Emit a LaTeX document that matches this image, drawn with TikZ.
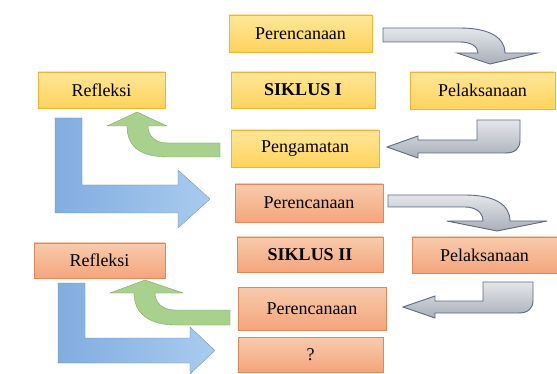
\documentclass[tikz,border=0pt]{standalone}
\usepackage{fontspec}
\setmainfont{Liberation Serif}
\definecolor{ytop}{HTML}{FFE699}
\definecolor{ybot}{HTML}{FFD45C}
\definecolor{yedge}{HTML}{F2B233}
\definecolor{stop}{HTML}{F8CBAD}
\definecolor{sbot}{HTML}{F4A57C}
\definecolor{sedge}{HTML}{E0875A}
\definecolor{bluea}{HTML}{82ADE0}
\definecolor{blueb}{HTML}{A9CBEE}
\definecolor{greena}{HTML}{A9D18E}
\definecolor{greenb}{HTML}{8CC26D}
\definecolor{graya}{HTML}{E4E6EA}
\definecolor{grayb}{HTML}{A9AEB8}
\definecolor{grayedge}{HTML}{5D6B85}
\tikzset{
  ybox/.style={draw=yedge, line width=0.8pt, top color=ytop, bottom color=ybot, inner sep=0pt, font=\fontsize{18}{20}\selectfont},
  sbox/.style={draw=sedge, line width=0.8pt, top color=stop, bottom color=sbot, inner sep=0pt, font=\fontsize{18}{20}\selectfont},
  bluearrow/.style={left color=bluea, right color=blueb, draw=bluea!80!black, line width=0.3pt},
  greenarrow/.style={fill=greena, draw=greenb!80!black, line width=0.3pt},
  grayarrow/.style={top color=graya, bottom color=grayb, draw=grayedge, line width=0.9pt},
}
\begin{document}
\begin{tikzpicture}[x=1pt,y=-1pt]
\useasboundingbox (0,0) rectangle (557,374);
\fill[white] (0,0) rectangle (557,374);

% Cycle I
\node[ybox, minimum width=143pt, minimum height=37pt] (p1) at (300.5,33.5) {Perencanaan};
\node[ybox, minimum width=144pt, minimum height=36pt] (s1) at (303,90) {\textbf{SIKLUS I}};
\node[ybox, minimum width=148pt, minimum height=37pt] (g1) at (305,148.5) {Pengamatan};
\node[ybox, minimum width=145pt, minimum height=37pt] (l1) at (482.5,90.5) {Pelaksanaan};
\node[ybox, minimum width=127pt, minimum height=36pt] (r1) at (101.5,90) {Refleksi};

% Cycle II
\node[sbox, minimum width=148pt, minimum height=38pt] (p2) at (309,203) {Perencanaan};
\node[sbox, minimum width=146pt, minimum height=35pt] (s2) at (310,254.5) {\textbf{SIKLUS II}};
\node[sbox, minimum width=148pt, minimum height=43pt] (g2) at (312,308.5) {Perencanaan};
\node[sbox, minimum width=145pt, minimum height=35pt] (q) at (310.5,354.5) {?};
\node[sbox, minimum width=145pt, minimum height=36pt] (l2) at (484.5,255) {Pelaksanaan};
\node[sbox, minimum width=131pt, minimum height=35pt] (r2) at (99.5,260.5) {Refleksi};

% Blue L arrows
\path[bluearrow] (55,118) -- (82,118) -- (82,185) -- (178,185) -- (178,170) -- (210,199) -- (178,228) -- (178,213) -- (55,213) -- cycle;
\path[bluearrow] (58,283) -- (85,283) -- (85,338) -- (190,338) -- (190,327) -- (215,350.5) -- (190,374) -- (190,363) -- (58,363) -- cycle;

% Green curved arrows
\path[greenarrow] (220,143) -- (168,143) .. controls (155,143) and (148,136) .. (148,126) -- (167,126) -- (137,112) -- (107,126) -- (127,126) .. controls (127,148) and (142,157) .. (168,157) -- (220,157) -- cycle;
\path[greenarrow] (230,310) -- (175,310) .. controls (162,310) and (155,302) .. (155,293) -- (183,293) -- (145,280) -- (110,293) -- (134,293) .. controls (134,314) and (150,325) .. (175,325) -- (230,325) -- cycle;

% Gray bent arrows
\path[grayarrow] (383,28) -- (460,28) .. controls (490,28) and (505,38) .. (505,53) -- (537,53) -- (490,64) -- (457,53) -- (478,53) .. controls (478,46) and (470,42) .. (460,42) -- (383,42) -- cycle;
\path[grayarrow] (477,120) -- (520,120) -- (520,140) .. controls (520,149) and (515,153) .. (505,153) -- (418,153) -- (418,158) -- (387,147) -- (418,136) -- (418,140) -- (477,140) -- cycle;
\path[grayarrow] (388,195) -- (465,195) .. controls (495,195) and (510,205) .. (510,221) -- (547,221) -- (497,231) -- (447,221) -- (483,221) .. controls (483,212) and (475,207) .. (465,207) -- (388,207) -- cycle;
\path[grayarrow] (483,282) -- (533,282) -- (533,300) .. controls (533,309) and (528,313) .. (518,313) -- (435,313) -- (435,318) -- (403,307) -- (435,296) -- (435,301) -- (483,301) -- cycle;
\end{tikzpicture}
\end{document}
